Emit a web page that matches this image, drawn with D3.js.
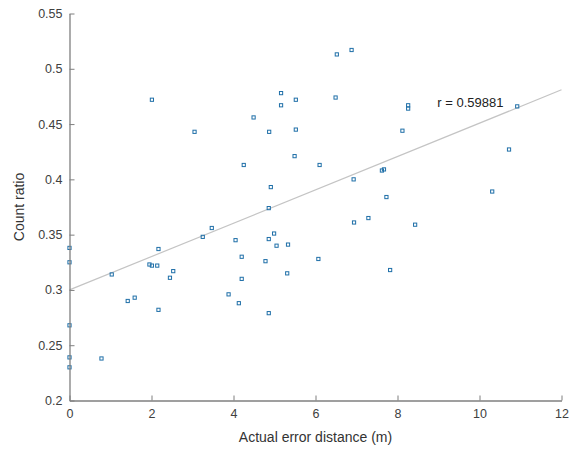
<!DOCTYPE html>
<html>
<head>
<meta charset="utf-8">
<script src="https://cdn.jsdelivr.net/npm/d3@7"></script>
<style>
  html, body { margin: 0; padding: 0; background: #fff; }
  svg { display: block; }
  text { font-family: "Liberation Sans", Arial, sans-serif; }
</style>
</head>
<body>
<svg id="chart" width="583" height="450"></svg>
<script>
// ---- data ----
const errorDistance = [
  0, 0, 0, 0, 0,
  0.78, 1.03, 1.42, 1.59, 1.95, 2.01, 2.14, 2.17, 2.17, 2.01,
  2.45, 2.53, 3.05, 3.25, 3.47, 3.88, 4.05, 4.13, 4.20, 4.20,
  4.25, 4.49, 4.78, 4.86, 4.86, 4.86, 4.87, 4.91, 4.99, 5.05,
  5.16, 5.16, 5.31, 5.33, 5.49, 5.52, 5.52, 6.07, 6.10, 6.49,
  6.52, 6.88, 6.93, 6.94, 7.29, 7.62, 7.67, 7.73, 7.82, 8.12,
  8.26, 8.26, 8.43, 10.31, 10.72, 10.92
];
const countRatio = [
  0.338, 0.325, 0.268, 0.239, 0.230,
  0.238, 0.314, 0.290, 0.293, 0.323, 0.322, 0.322, 0.337, 0.282, 0.472,
  0.311, 0.317, 0.443, 0.348, 0.356, 0.296, 0.345, 0.288, 0.330, 0.310,
  0.413, 0.456, 0.326, 0.374, 0.346, 0.279, 0.443, 0.393, 0.351, 0.340,
  0.478, 0.467, 0.315, 0.341, 0.421, 0.472, 0.445, 0.328, 0.413, 0.474,
  0.513, 0.517, 0.400, 0.361, 0.365, 0.408, 0.409, 0.384, 0.318, 0.444,
  0.467, 0.464, 0.359, 0.389, 0.427, 0.466
];
const fitX = [0, 12];
const fitY = [0.300, 0.481];
const xTicks = [0, 2, 4, 6, 8, 10, 12];
const yTicks = [0.2, 0.25, 0.3, 0.35, 0.4, 0.45, 0.5, 0.55];
const annotation = "r = 0.59881";

// ---- layout ----
const svg = d3.select("#chart");
const mLeft = 69.5, mRight = 561.5, mTop = 13.5, mBottom = 400.5;
const x = d3.scaleLinear().domain([0, 12]).range([mLeft, mRight]);
const y = d3.scaleLinear().domain([0.2, 0.55]).range([mBottom, mTop]);
const axisColor = "#7f7f7f";
const textColor = "#404040";

// regression line
svg.append("line")
  .attr("x1", x(fitX[0])).attr("y1", y(fitY[0]))
  .attr("x2", x(fitX[1])).attr("y2", y(fitY[1]))
  .attr("stroke", "#c4c4c4").attr("stroke-width", 1.2);

// points
svg.append("g").selectAll("rect")
  .data(errorDistance.map((d, i) => [d, countRatio[i]]))
  .join("rect")
  .attr("x", d => x(d[0]) - 1.6)
  .attr("y", d => y(d[1]) - 1.6)
  .attr("width", 3.2).attr("height", 3.2)
  .attr("fill", "none")
  .attr("stroke", "#1f6fa8")
  .attr("stroke-width", 1);

// axes
const xAxis = d3.axisBottom(x).tickValues(xTicks).tickFormat(d3.format("d")).tickSizeInner(-5).tickSizeOuter(0).tickPadding(9);
const yAxis = d3.axisLeft(y).tickValues(yTicks).tickFormat(d => String(+d.toFixed(2))).tickSizeInner(-5).tickSizeOuter(0).tickPadding(7);

const gx = svg.append("g").attr("transform", `translate(0,${mBottom})`).call(xAxis);
const gy = svg.append("g").attr("transform", `translate(${mLeft},0)`).call(yAxis);
[gx, gy].forEach(g => {
  g.select(".domain").attr("stroke", axisColor).attr("stroke-width", 1.3);
  g.selectAll(".tick line").attr("stroke", axisColor).attr("stroke-width", 1);
  g.selectAll(".tick text").attr("fill", textColor).attr("font-size", 12.5)
    .attr("font-family", "'Liberation Sans', Arial, sans-serif");
});

// axis labels
svg.append("text")
  .attr("x", (mLeft + mRight) / 2).attr("y", 442)
  .attr("text-anchor", "middle").attr("font-size", 14).attr("fill", "#333")
  .text("Actual error distance (m)");
svg.append("text")
  .attr("transform", `translate(24,${(mTop + mBottom) / 2}) rotate(-90)`)
  .attr("text-anchor", "middle").attr("font-size", 14).attr("fill", "#333")
  .text("Count ratio");

// annotation
svg.append("text")
  .attr("x", x(8.97)).attr("y", 107)
  .attr("font-size", 13).attr("fill", "#222")
  .text(annotation);
</script>
</body>
</html>
